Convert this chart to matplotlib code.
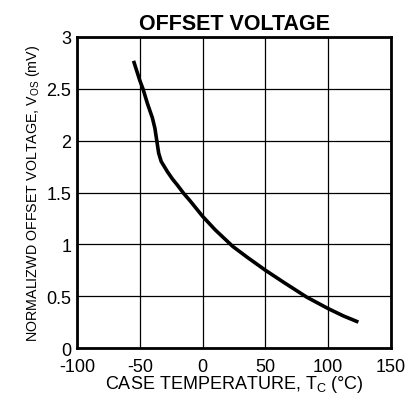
import numpy as np
import matplotlib.pyplot as plt

plt.rcParams['font.family'] = ['Liberation Sans', 'DejaVu Sans']
plt.rcParams['axes.unicode_minus'] = False

temp = [-55, -50, -47.5, -44, -40, -38, -36.5, -35, -33, -31, -28, -24, -20, -15, -10, 0, 10, 24, 35, 50, 65, 83, 100, 112, 124]
vos = [2.77, 2.58, 2.5, 2.36, 2.22, 2.12, 2.0, 1.88, 1.8, 1.76, 1.70, 1.63, 1.57, 1.49, 1.42, 1.27, 1.14, 0.98, 0.88, 0.75, 0.63, 0.49, 0.38, 0.31, 0.25]

x_ticks = [-100, -50, 0, 50, 100, 150]
y_ticks = [0, 0.5, 1, 1.5, 2, 2.5, 3]
y_tick_labels = ["0", "0.5", "1", "1.5", "2", "2.5", "3"]

fig = plt.figure(figsize=(4.17, 4.02), dpi=100)
ax = fig.add_axes([0.1847, 0.1318, 0.753, 0.7737])

ax.plot(temp, vos, color='black', linewidth=2.6, solid_capstyle='butt')

ax.set_xlim(-100, 150)
ax.set_ylim(0, 3)
ax.set_xticks(x_ticks)
ax.set_yticks(y_ticks)
ax.set_yticklabels(y_tick_labels)
ax.tick_params(axis='both', length=0, labelsize=13)
ax.tick_params(axis='x', pad=7)
ax.tick_params(axis='y', pad=4)
ax.grid(True, color='black', linewidth=0.9)
for s in ax.spines.values():
    s.set_linewidth(2)

ax.set_title('OFFSET VOLTAGE', fontsize=15.5, fontweight='bold', pad=6)
ax.set_xlabel('CASE TEMPERATURE, T$_\\mathregular{C}$ (°C)', fontsize=13, labelpad=-1)
ax.set_ylabel('NORMALIZWD OFFSET VOLTAGE, V$_\\mathregular{OS}$ (mV)', fontsize=10.3, labelpad=3)

plt.savefig('out.png', dpi=100)
